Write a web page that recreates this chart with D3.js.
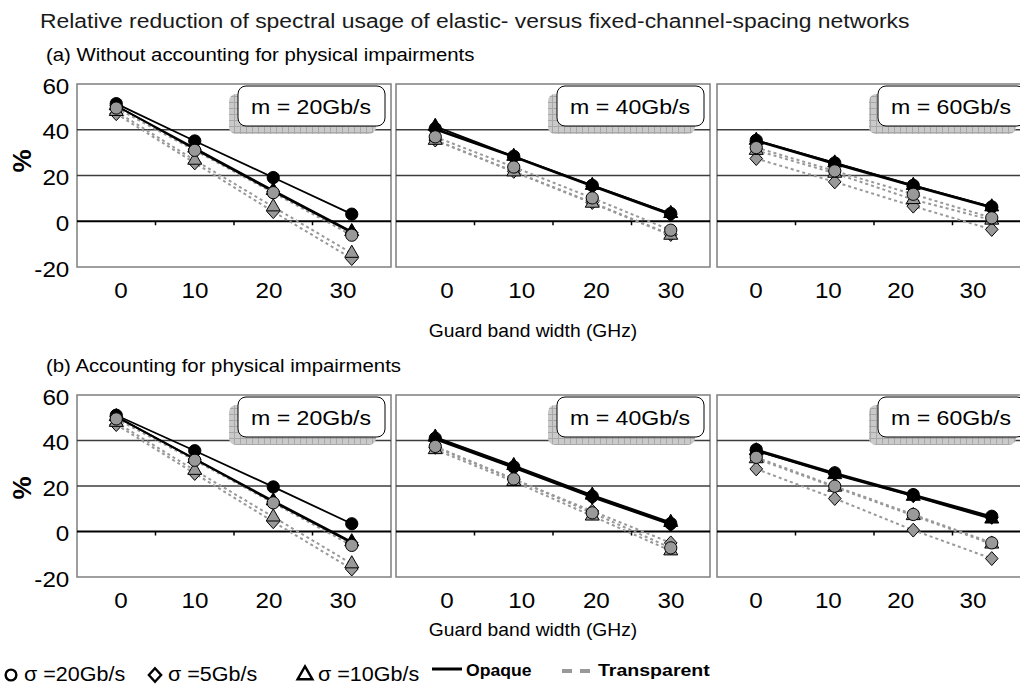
<!DOCTYPE html>
<html>
<head>
<meta charset="utf-8">
<script src="https://cdn.jsdelivr.net/npm/d3@7"></script>
<style>
  body { margin: 0; background: #fff; }
  text { font-family: "Liberation Sans", Arial, sans-serif; }
</style>
</head>
<body>
<script>
'use strict';

// categories and tick labels
const guardBands = ["0", "10", "20", "30"];
const rateLabels = ["m = 20Gb/s", "m = 40Gb/s", "m = 60Gb/s"];
const yTicks = [60, 40, 20, 0, -20];
const gridTicks = [40, 20];

// (a) without accounting for physical impairments, one row per rate (20, 40, 60 Gb/s)
const aOpaque20 = [[51.4, 35.1, 19.1, 3.1], [40.5, 28.4, 15.7, 3.4], [35.4, 25.5, 15.7, 6.3]];
const aOpaque5 = [[50.5, 31.5, 13.0, -5.0], [40.0, 28.0, 15.2, 2.8], [35.0, 25.0, 15.2, 5.8]];
const aOpaque10 = [[50.5, 32.0, 13.5, -4.5], [41.5, 28.4, 15.7, 3.4], [35.4, 25.5, 15.7, 6.3]];
const aTransp20 = [[49.5, 31.0, 12.5, -6.1], [36.9, 23.7, 10.2, -3.9], [32.2, 22.0, 11.8, 1.5]];
const aTransp5 = [[47.0, 25.5, 4.2, -16.3], [35.5, 21.8, 8.2, -5.8], [27.4, 17.2, 6.6, -3.6]];
const aTransp10 = [[48.0, 26.7, 6.3, -14.0], [35.4, 21.6, 7.9, -6.1], [31.0, 21.0, 9.5, 0.5]];

// (b) accounting for physical impairments
const bOpaque20 = [[51.1, 35.5, 19.6, 3.4], [41.0, 28.4, 15.5, 3.5], [36.0, 25.8, 16.2, 6.7]];
const bOpaque5 = [[50.5, 31.8, 13.0, -5.0], [40.5, 28.0, 15.0, 3.0], [35.5, 25.3, 15.7, 6.2]];
const bOpaque10 = [[50.5, 32.0, 13.5, -4.5], [41.5, 29.0, 16.0, 4.0], [35.5, 25.0, 15.5, 5.5]];
const bTransp20 = [[49.5, 31.3, 12.6, -6.1], [37.4, 23.1, 8.2, -7.2], [32.6, 19.9, 7.5, -5.0]];
const bTransp5 = [[47.0, 25.5, 4.3, -16.5], [37.0, 23.0, 9.0, -5.0], [27.5, 14.5, 0.6, -11.9]];
const bTransp10 = [[48.0, 26.9, 6.4, -14.2], [36.0, 22.0, 6.8, -8.5], [32.0, 19.5, 7.0, -5.5]];

const SX = 1.1; // the source picture is a bit stretched horizontally

const svg = d3.select("body").append("svg")
  .attr("width", 1020)
  .attr("height", 686);

// hatched fill for the label box shadows
const pat = svg.append("defs").append("pattern")
  .attr("id", "hatch")
  .attr("width", 6).attr("height", 6)
  .attr("patternUnits", "userSpaceOnUse");
pat.append("rect").attr("width", 6).attr("height", 6).attr("fill", "#cacaca");
pat.append("path").attr("d", "M0,0.5H6M0.5,0V6").attr("stroke", "#a8a8a8").attr("stroke-width", 1);

// text helper: stretched a little in x like the original
function label(parent, x, y, str, size, opts) {
  opts = opts || {};
  return parent.append("text")
    .attr("transform", `translate(${x},${y}) scale(${opts.sx || SX},1)`)
    .attr("text-anchor", opts.anchor || "start")
    .attr("font-size", size)
    .attr("font-weight", opts.bold ? "bold" : "normal")
    .attr("fill", opts.fill || "#000")
    .text(str);
}

// wide diamond (the d3 one is too narrow)
const wideDiamond = {
  draw(context, size) {
    let r = Math.sqrt(size / 2);
    context.moveTo(0, -r * 1.1);
    context.lineTo(r, 0);
    context.lineTo(0, r * 1.1);
    context.lineTo(-r, 0);
    context.closePath();
  }
};
const symbolTypes = { circle: d3.symbolCircle, diamond: wideDiamond, triangle: d3.symbolTriangle };
const shapes = {
  circle: d3.symbol().type(d3.symbolCircle).size(118),
  diamond: d3.symbol().type(wideDiamond).size(80),
  triangle: d3.symbol().type(d3.symbolTriangle).size(85)
};

const panelLefts = [77, 396, 717];
const panelWidth = 314;
const labelRanges = [[44, 266], [51, 275], [39, 256]];

const rows = [
  { top: 84, bottom: 267, sub: "(a) Without accounting for physical impairments", pct: 161, xTitle: 70,
    series: [
      { vals: aTransp5, shape: "diamond", opaque: false },
      { vals: aTransp10, shape: "triangle", opaque: false },
      { vals: aTransp20, shape: "circle", opaque: false },
      { vals: aOpaque5, shape: "diamond", opaque: true },
      { vals: aOpaque10, shape: "triangle", opaque: true },
      { vals: aOpaque20, shape: "circle", opaque: true }
    ] },
  { top: 395, bottom: 577, sub: "(b) Accounting for physical impairments", pct: 488, xTitle: 59,
    series: [
      { vals: bTransp5, shape: "diamond", opaque: false },
      { vals: bTransp10, shape: "triangle", opaque: false },
      { vals: bTransp20, shape: "circle", opaque: false },
      { vals: bOpaque5, shape: "diamond", opaque: true },
      { vals: bOpaque10, shape: "triangle", opaque: true },
      { vals: bOpaque20, shape: "circle", opaque: true }
    ] }
];

// title
label(svg, 40, 28, "Relative reduction of spectral usage of elastic- versus fixed-channel-spacing networks", 19.5, { fill: "#1a1a1a", sx: 1.175 });

rows.forEach((row) => {
  let yScale = d3.scaleLinear().domain([-20, 60]).range([row.bottom, row.top]);

  label(svg, 46, row.top - 23, row.sub, 18.5);

  // y axis labels on the first panel only
  let yAxis = svg.append("g")
    .attr("transform", `translate(${panelLefts[0]},0)`)
    .call(d3.axisLeft(yScale).tickValues(yTicks).tickSize(0).tickPadding(7).tickFormat((d) => String(d)));
  yAxis.select(".domain").remove();
  yAxis.selectAll("text")
    .attr("font-size", 22)
    .attr("font-family", "Liberation Sans, Arial, sans-serif")
    .attr("fill", "#000")
    .attr("dy", "0.42em")
    .attr("transform", `scale(${SX},1)`);

  svg.append("text")
    .attr("transform", `translate(22,${row.pct}) rotate(-90)`)
    .attr("text-anchor", "middle")
    .attr("dy", "0.36em")
    .attr("font-size", 26)
    .attr("font-weight", "bold")
    .text("%");

  panelLefts.forEach((left, p) => {
    let xBand = d3.scaleBand().domain(guardBands).range([left, left + panelWidth]);
    let xMid = (d) => xBand(d) + xBand.bandwidth() / 2;
    let g = svg.append("g");

    // frame
    g.append("rect")
      .attr("x", left).attr("y", row.top)
      .attr("width", panelWidth).attr("height", row.bottom - row.top)
      .attr("fill", "#fff")
      .attr("stroke", "#7f7f7f")
      .attr("stroke-width", 1.5);

    // gridlines
    g.selectAll(".grid").data(gridTicks).enter().append("line")
      .attr("x1", left).attr("x2", left + panelWidth)
      .attr("y1", yScale).attr("y2", yScale)
      .attr("stroke", "#3c3c3c")
      .attr("stroke-width", 1.3);

    // zero line with category ticks
    g.append("line")
      .attr("x1", left).attr("x2", left + panelWidth)
      .attr("y1", yScale(0)).attr("y2", yScale(0))
      .attr("stroke", "#000").attr("stroke-width", 2);
    g.selectAll(".tk").data(guardBands.slice(1)).enter().append("line")
      .attr("x1", (d) => xBand(d)).attr("x2", (d) => xBand(d))
      .attr("y1", yScale(0)).attr("y2", yScale(0) + 4)
      .attr("stroke", "#000").attr("stroke-width", 1.5);

    // rate label with hatched shadow
    let bx = left + 161, by = row.top + 2;
    g.append("rect")
      .attr("x", bx - 9).attr("y", by + 8)
      .attr("width", 147).attr("height", 40)
      .attr("rx", 7)
      .attr("fill", "url(#hatch)");
    g.append("rect")
      .attr("x", bx).attr("y", by)
      .attr("width", 147).attr("height", 40)
      .attr("rx", 8)
      .attr("fill", "#fff")
      .attr("stroke", "#000")
      .attr("stroke-width", 1);
    label(g, bx + 73, by + 28, rateLabels[p], 21, { anchor: "middle" });

    // lines: transparent dashed first, then opaque solid
    let line = d3.line()
      .x((d, i) => xMid(guardBands[i]))
      .y((d) => yScale(d));

    row.series.forEach((s) => {
      g.append("path")
        .datum(s.vals[p])
        .attr("d", line)
        .attr("fill", "none")
        .attr("stroke", s.opaque ? "#000" : "#999")
        .attr("stroke-width", s.opaque ? 1.8 : 2)
        .attr("stroke-dasharray", s.opaque ? null : "3,3");
    });

    // markers: opaque (black) below, transparent (gray) on top
    let order = row.series.filter((s) => s.opaque).concat(row.series.filter((s) => !s.opaque));
    order.forEach((s) => {
      g.selectAll(null).data(s.vals[p]).enter().append("path")
        .attr("d", shapes[s.shape])
        .attr("transform", (d, i) => `translate(${xMid(guardBands[i])},${yScale(d)})`)
        .attr("fill", s.opaque ? "#000" : "#999")
        .attr("stroke", "#000")
        .attr("stroke-width", 1);
    });

    // category labels
    let xLab = d3.scalePoint().domain(guardBands).range([left + labelRanges[p][0], left + labelRanges[p][1]]);
    g.selectAll(".xl").data(guardBands).enter().append("text")
      .attr("transform", (d) => `translate(${xLab(d)},${row.bottom + 31}) scale(${SX},1)`)
      .attr("text-anchor", "middle")
      .attr("font-size", 22)
      .text((d) => d);
  });

  label(svg, 533, row.bottom + row.xTitle, "Guard band width (GHz)", 17.5, { anchor: "middle" });
});

// legend
let leg = svg.append("g");
let legendItems = [
  { shape: "circle", x: 11, text: "σ =20Gb/s", size: 90 },
  { shape: "diamond", x: 155, text: "σ =5Gb/s", size: 75 },
  { shape: "triangle", x: 305, text: "σ =10Gb/s", size: 95 }
];
legendItems.forEach((it) => {
  leg.append("path")
    .attr("d", d3.symbol().type(symbolTypes[it.shape]).size(it.size))
    .attr("transform", `translate(${it.x},675)`)
    .attr("fill", "none")
    .attr("stroke", "#000")
    .attr("stroke-width", 2.4);
  label(leg, it.x + 13, 681, it.text, 20.5, { sx: 1.05 });
});
leg.append("line")
  .attr("x1", 432).attr("x2", 462).attr("y1", 669).attr("y2", 669)
  .attr("stroke", "#000").attr("stroke-width", 3);
label(leg, 466, 676, "Opaque", 16, { bold: true });
leg.append("line")
  .attr("x1", 562).attr("x2", 592).attr("y1", 671).attr("y2", 671)
  .attr("stroke", "#999").attr("stroke-width", 4)
  .attr("stroke-dasharray", "10,8");
label(leg, 598, 676, "Transparent", 17, { bold: true, sx: 1.15 });
</script>
</body>
</html>
